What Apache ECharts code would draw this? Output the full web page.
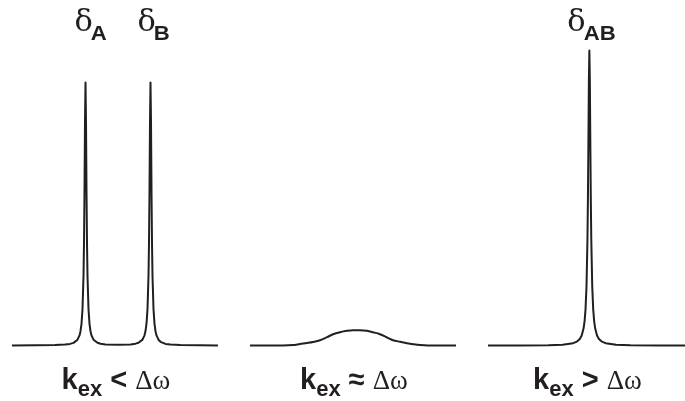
<!DOCTYPE html>
<html>
<head>
<meta charset="utf-8">
<script src="https://cdn.jsdelivr.net/npm/echarts/dist/echarts.min.js"></script>
<style>
  html, body { margin: 0; padding: 0; background: #ffffff; }
  #chart { width: 685px; height: 401px; }
</style>
</head>
<body>
<div id="chart"></div>
<script>
// Three NMR spectra of a two-site exchange A <-> B.
// x: frequency offset from the panel centre (Hz), y: intensity (arb. units).

// Resonance positions
const shiftA = -29.5;
const shiftB = 35.5;
const shiftAB = 3;

// Slow exchange: two sharp lines at the A and B frequencies
const slowExchange = [
  [-103, 0.1], [-80, 0.2], [-60, 0.45], [-50, 0.95], [-45, 1.6], [-41.5, 2.6],
  [-39.5, 3.7], [-37.5, 5.8], [-35.5, 10.1], [-34.5, 14.3], [-33.5, 21.7],
  [-32.5, 36.3], [-31.5, 69.6], [-31, 102.6], [-30.5, 155], [-30, 224],
  [-29.5, 263], [-29, 224], [-28.5, 155], [-28, 102.6], [-27.5, 69.6],
  [-26.5, 36.3], [-25.5, 21.7], [-24.5, 14.3], [-23.5, 10.1], [-21.5, 5.8],
  [-19.5, 3.8], [-17.5, 2.7], [-14.5, 1.8], [-9.5, 1.1], [3, 0.7], [15.5, 1.1],
  [20.5, 1.85], [23.5, 2.7], [25.5, 3.8], [27.5, 5.9], [29.5, 10.2],
  [30.5, 14.4], [31.5, 21.8], [32.5, 36.4], [33.5, 69.7], [34, 102.6],
  [34.5, 155], [35, 224], [35.5, 263], [36, 224], [36.5, 155], [37, 102.6],
  [37.5, 69.6], [38.5, 36.3], [39.5, 21.7], [40.5, 14.3], [41.5, 10.1],
  [43.5, 5.8], [45.5, 3.7], [47.5, 2.6], [50.5, 1.6], [55.5, 0.9],
  [65.5, 0.41], [85, 0.2], [103, 0.1]
];

// Intermediate exchange: one broad, flattened line near coalescence
const intermediateExchange = [
  [-103, 0], [-70, 0], [-60, 0.4], [-53, 1.5], [-46, 2.5], [-40, 3.5],
  [-33, 5.2], [-26, 8.3], [-20, 11.2], [-13, 13.3], [-6, 14.7], [0, 15.3],
  [7, 15.3], [14, 14.7], [20, 13.3], [27, 11.3], [34, 8], [40, 5.3],
  [47, 3.7], [54, 2.3], [60, 1.3], [67, 0.4], [75, 0], [103, 0]
];

// Fast exchange: a single sharp line at the population-weighted shift
const fastExchange = [
  [-103, 0.05], [-70, 0.12], [-40, 0.36], [-25, 0.85], [-14, 2.3], [-10, 3.9],
  [-7, 6.5], [-5, 10], [-3, 17.4], [-2, 24.4], [-1, 36.4], [0, 59], [1, 106],
  [1.5, 147.5], [2, 204], [2.5, 265.5], [3, 295], [3.5, 265.5], [4, 204],
  [4.5, 147.5], [5, 106], [6, 59], [7, 36.4], [8, 24.4], [9, 17.4], [11, 10],
  [13, 6.5], [16, 3.9], [20, 2.3], [31, 0.85], [46, 0.36], [76, 0.12],
  [103, 0.05]
];

// Peak labels: delta symbol with subscript site name
const peakLabels = [
  { panel: 0, shift: shiftA, sub: 'A', height: 263 },
  { panel: 0, shift: shiftB, sub: 'B', height: 263 },
  { panel: 2, shift: shiftAB, sub: 'AB', height: 295 }
];

// Exchange-regime captions under each panel
const regimeRelations = ['<', '\u2248', '>'];

const INK = '#231f20';
const SERIF = '"Liberation Serif", "Times New Roman", serif';
const GREEK = '"DejaVu Serif", serif';
const SANS = '"Liberation Sans", Arial, sans-serif';

const panelLefts = [12, 250, 488];
const grids = panelLefts.map(l => ({ left: l, top: 45.5, width: 206, height: 300 }));

const xAxes = grids.map((g, i) => ({
  type: 'value', gridIndex: i, min: -103, max: 103, show: false
}));
const yAxes = grids.map((g, i) => ({
  type: 'value', gridIndex: i, min: 0, max: 300, show: false
}));

const spectra = [slowExchange, intermediateExchange, fastExchange];
const series = spectra.map((d, i) => ({
  type: 'line',
  xAxisIndex: i,
  yAxisIndex: i,
  data: d,
  showSymbol: false,
  smooth: i === 1 ? 0.35 : false,
  clip: false,
  lineStyle: { color: INK, width: 2, join: 'round' }
}));

const chart = echarts.init(document.getElementById('chart'), null, { renderer: 'canvas' });
chart.setOption({
  animation: false,
  backgroundColor: '#ffffff',
  grid: grids,
  xAxis: xAxes,
  yAxis: yAxes,
  series: series
});

// Text layout helpers: place runs of differently styled text on a shared baseline
const measureCtx = document.createElement('canvas').getContext('2d');
function runWidth(run) {
  measureCtx.font = run.font;
  return measureCtx.measureText(run.text).width * (run.sx || 1);
}
function fontOf(weight, size, family) {
  return weight + ' ' + size + 'px ' + family;
}
function textEl(run, x, baseline) {
  return {
    type: 'text',
    x: x,
    y: baseline - (run.mid || 0.34) * run.size,
    scaleX: run.sx || 1,
    silent: true,
    style: {
      text: run.text,
      font: run.font,
      fill: INK,
      align: 'left',
      verticalAlign: 'middle'
    }
  };
}
function layoutRuns(runs, startX, baseline) {
  const els = [];
  let x = startX;
  runs.forEach(r => {
    els.push(textEl(r, x + (r.dx || 0), baseline + (r.dy || 0)));
    x += runWidth(r) + (r.dx || 0);
  });
  return els;
}
function totalWidth(runs) {
  return runs.reduce((s, r) => s + runWidth(r) + (r.dx || 0), 0);
}

const graphics = [];

// delta labels over the peaks
const labelOffsets = [-11, -13, -22];
peakLabels.forEach((p, i) => {
  const px = chart.convertToPixel({ gridIndex: p.panel }, [p.shift, p.height]);
  const runs = [
    { text: '\u03b4', size: 29, sx: 1.05, mid: 0.37, font: fontOf('normal', 29, GREEK) },
    { text: p.sub, size: 20.5, sx: 1.08, font: fontOf('bold', 20.5, SANS), dx: -2, dy: 7.5 }
  ];
  graphics.push(...layoutRuns(runs, px[0] + labelOffsets[i], 34));
});

// k_ex vs delta-omega captions
regimeRelations.forEach((rel, i) => {
  const centre = chart.convertToPixel({ gridIndex: i }, [0, 0]);
  const runs = [
    { text: 'k', size: 29, font: fontOf('bold', 29, SANS) },
    { text: 'ex', size: 22, font: fontOf('bold', 22, SANS), dy: 6.5 },
    { text: ' ' + rel + ' ', size: 29, font: fontOf('bold', 29, SANS) },
    { text: '\u0394\u03c9', size: 27, font: fontOf('normal', 27, SERIF) }
  ];
  const w = totalWidth(runs);
  graphics.push(...layoutRuns(runs, centre[0] + 1 - w / 2, 391));
});

chart.setOption({ graphic: graphics });
</script>
</body>
</html>
